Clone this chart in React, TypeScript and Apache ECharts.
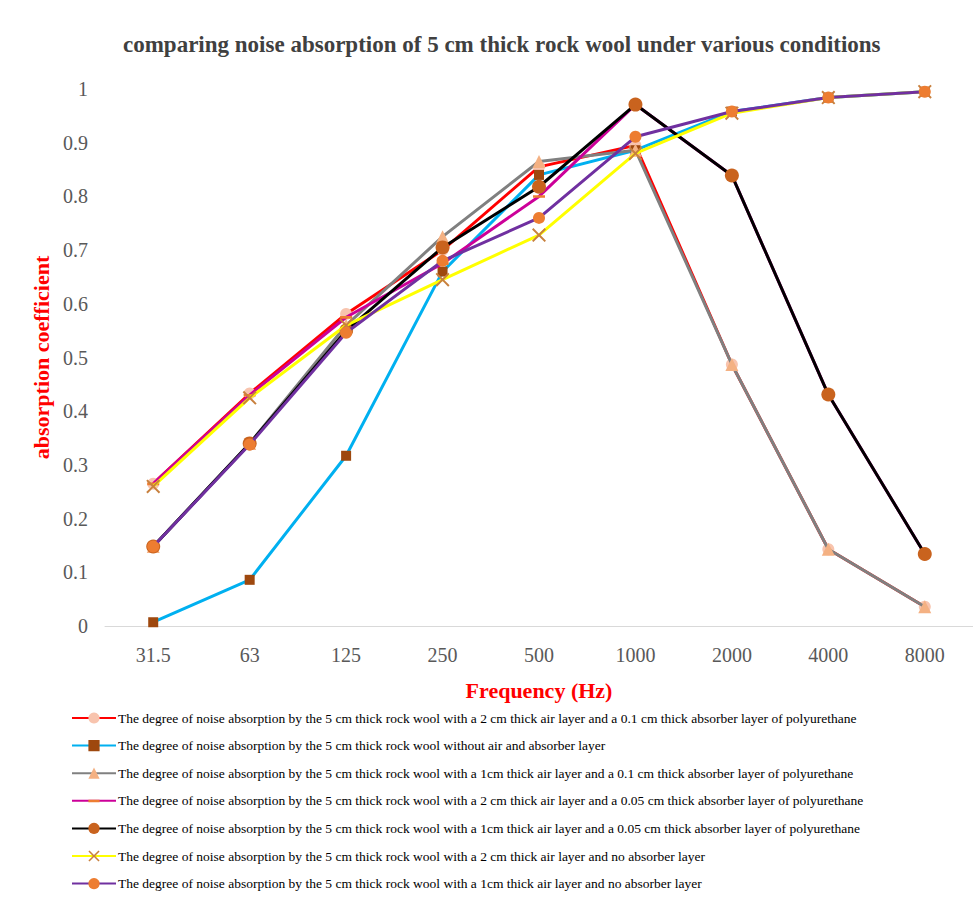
import React, { useEffect, useRef } from "react";
import * as echarts from "echarts";

const categories = ["31.5", "63", "125", "250", "500", "1000", "2000", "4000", "8000"];

const seriesNames = [
  "The degree of noise absorption by the 5 cm thick rock wool with a 2 cm thick air layer and a 0.1 cm thick absorber layer of polyurethane",
  "The degree of noise absorption by the 5 cm thick rock wool without air and absorber layer",
  "The degree of noise absorption by the 5 cm thick rock wool with a 1cm thick air layer and a 0.1 cm thick absorber layer of polyurethane",
  "The degree of noise absorption by the 5 cm thick rock wool with a 2 cm thick air layer and a 0.05 cm thick absorber layer of polyurethane",
  "The degree of noise absorption by the 5 cm thick rock wool with a 1cm thick air layer and a 0.05 cm thick absorber layer of polyurethane",
  "The degree of noise absorption by the 5 cm thick rock wool with a 2 cm thick air layer and no absorber layer",
  "The degree of noise absorption by the 5 cm thick rock wool with a 1cm thick air layer and no absorber layer",
];

const air2Pu01 = [0.265, 0.433, 0.581, 0.7, 0.855, 0.895, 0.487, 0.143, 0.036];
const noAirNoAbsorber = [0.007, 0.086, 0.317, 0.66, 0.84, 0.886, 0.958, 0.984, 0.995];
const air1Pu01 = [0.148, 0.34, 0.56, 0.725, 0.865, 0.886, 0.487, 0.143, 0.036];
const air2Pu005 = [0.265, 0.43, 0.575, 0.675, 0.8, 0.971, 0.839, 0.431, 0.134];
const air1Pu005 = [0.148, 0.34, 0.55, 0.705, 0.818, 0.971, 0.839, 0.431, 0.134];
const air2NoAbsorber = [0.26, 0.425, 0.56, 0.645, 0.728, 0.88, 0.955, 0.984, 0.995];
const air1NoAbsorber = [0.148, 0.338, 0.546, 0.68, 0.76, 0.911, 0.958, 0.984, 0.995];

const yTicks = { min: 0, max: 1, interval: 0.1 };

const X_PATH =
  "path://M0,1L1,0L5,4L9,0L10,1L6,5L10,9L9,10L5,6L1,10L0,9L4,5Z";
const DASH_PATH =
  "path://M5,0L5.01,0L5.01,0.01L5,0.01ZM0,4L10,4L10,6.2L0,6.2ZM5,10L5.01,10L5.01,9.99L5,9.99Z";

export default function App() {
  const ref = useRef<HTMLDivElement>(null);

  useEffect(() => {
    if (!ref.current) return;
    const chart = echarts.init(ref.current, null, { renderer: "svg" });

    const defs = [
      { data: air2Pu01, color: "#FF0000", symbol: "circle", symbolSize: 12, mColor: "#F8C4AE" },
      { data: noAirNoAbsorber, color: "#00B0F0", symbol: "rect", symbolSize: 10, mColor: "#9E480E" },
      { data: air1Pu01, color: "#808080", symbol: "triangle", symbolSize: 13, mColor: "#F4B183" },
      { data: air2Pu005, color: "#CC0099", symbol: DASH_PATH, symbolSize: 12, mColor: "#ED7D31" },
      { data: air1Pu005, color: "#000000", symbol: "circle", symbolSize: 14, mColor: "#C9631E" },
      { data: air2NoAbsorber, color: "#FFFF00", symbol: X_PATH, symbolSize: 14, mColor: "#C8803E" },
      { data: air1NoAbsorber, color: "#7030A0", symbol: "circle", symbolSize: 12, mColor: "#ED7D31" },
    ];

    const series = defs.map((d, i) => ({
      name: seriesNames[i],
      type: "line",
      data: d.data,
      symbol: d.symbol,
      symbolSize: d.symbolSize,
      showAllSymbol: true,
      lineStyle: { color: d.color, width: 3 },
      itemStyle: { color: d.mColor, borderWidth: 0 },
      emphasis: { disabled: true },
      z: 2 + i,
    }));

    chart.setOption({
      animation: false,
      backgroundColor: "#FFFFFF",
      title: {
        text: "comparing noise absorption of 5 cm thick rock wool under various conditions",
        left: 118,
        top: 28,
        textStyle: {
          fontFamily: "Liberation Serif",
          fontWeight: "bold",
          fontSize: 23,
          color: "#404040",
        },
      },
      grid: { left: 105, right: 0, top: 89, bottom: 281, containLabel: false },
      xAxis: {
        type: "category",
        data: categories,
        boundaryGap: true,
        name: "Frequency (Hz)",
        nameLocation: "middle",
        nameGap: 53,
        nameTextStyle: {
          fontFamily: "Liberation Serif",
          fontWeight: "bold",
          fontSize: 22,
          color: "#FF0000",
        },
        axisLine: { show: true, lineStyle: { color: "#D9D9D9", width: 1 } },
        axisTick: { show: false },
        axisLabel: {
          fontFamily: "Liberation Serif",
          fontSize: 20,
          color: "#595959",
          margin: 19,
        },
        splitLine: { show: false },
      },
      yAxis: {
        type: "value",
        min: yTicks.min,
        max: yTicks.max,
        interval: yTicks.interval,
        name: "absorption coefficient",
        nameLocation: "middle",
        nameRotate: 90,
        nameGap: 52,
        nameTextStyle: {
          fontFamily: "Liberation Serif",
          fontWeight: "bold",
          fontSize: 22,
          color: "#FF0000",
        },
        axisLine: { show: false },
        axisTick: { show: false },
        splitLine: { show: false },
        axisLabel: {
          fontFamily: "Liberation Serif",
          fontSize: 20,
          color: "#595959",
          margin: 17,
        },
      },
      legend: {
        orient: "vertical",
        left: 66,
        top: 706,
        itemWidth: 44,
        itemHeight: 14,
        itemGap: 13.6,
        selectedMode: false,
        textStyle: {
          fontFamily: "Liberation Serif",
          fontSize: 13.5,
          color: "#000000",
          padding: [0, 0, 0, -3],
        },
        data: seriesNames,
      },
      series,
    });

    return () => chart.dispose();
  }, []);

  return (
    <div
      ref={ref}
      style={{ position: "fixed", left: 0, top: 0, width: 973, height: 907, background: "#fff" }}
    />
  );
}
